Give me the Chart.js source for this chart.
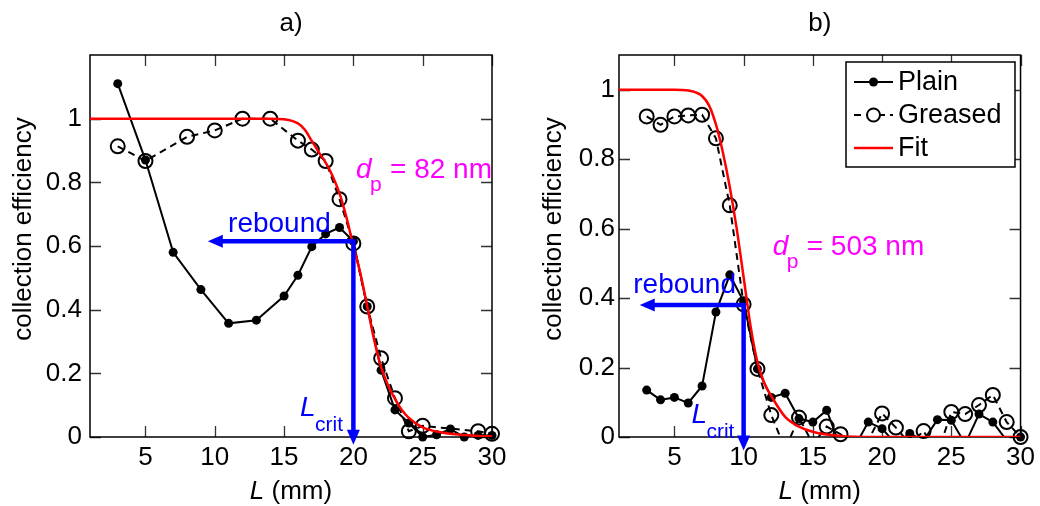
<!DOCTYPE html>
<html>
<head>
<meta charset="utf-8">
<script src="https://cdn.jsdelivr.net/npm/chart.js@4.4.1/dist/chart.umd.min.js"></script>
<style>
body { margin: 0; background: #fff; }
#wrap { position: relative; width: 1040px; height: 506px; }
canvas { position: absolute; top: 0; }
</style>
</head>
<body>
<div id="wrap">
  <canvas id="chartA" width="520" height="506" style="left:0"></canvas>
  <canvas id="chartB" width="520" height="506" style="left:520px"></canvas>
</div>
<script>
const FONT = '"Liberation Sans", Arial, sans-serif';
const BLUE = '#0000ff';
const MAGENTA = '#ff00ff';

// a) d_p = 82 nm
const plainA_L = [3, 5, 7, 9, 11, 13, 15, 16, 17, 18, 19, 20, 21, 22, 23, 24, 25, 26, 27, 28, 29, 30];
const plainA = [1.11, 0.87, 0.58, 0.463, 0.357, 0.367, 0.443, 0.508, 0.598, 0.638, 0.658, 0.615, 0.41, 0.21, 0.085, 0.044, 0.0, 0.007, 0.025, 0.0, 0.005, 0.005];
const greasedA_L = [3, 5, 8, 10, 12, 14, 16, 17, 18, 19, 20, 21, 22, 23, 24, 25, 29, 30];
const greasedA = [0.913, 0.867, 0.943, 0.963, 1.0, 1.0, 0.931, 0.903, 0.867, 0.747, 0.608, 0.41, 0.247, 0.122, 0.018, 0.035, 0.018, 0.01];
const fitA_L = [1, 5, 10, 14, 15, 16, 16.5, 17, 17.5, 18, 18.5, 19, 19.5, 20, 20.5, 21, 21.5, 22, 22.5, 23, 23.5, 24, 25, 26, 27, 28, 29, 30];
const fitA = [1, 1, 1, 1, 0.998, 0.985, 0.965, 0.93, 0.895, 0.862, 0.82, 0.765, 0.69, 0.6, 0.515, 0.41, 0.305, 0.22, 0.162, 0.12, 0.085, 0.06, 0.03, 0.017, 0.01, 0.006, 0.003, 0.002];

// b) d_p = 503 nm
const plainB_L = [3, 4, 5, 6, 7, 8, 9, 10, 11, 12, 13, 14, 15, 16, 17, 18, 19, 20, 21, 22, 23, 24, 25, 26, 27, 28, 29, 30];
const plainB = [0.135, 0.107, 0.114, 0.098, 0.147, 0.36, 0.467, 0.39, 0.196, 0.114, 0.126, 0.053, 0.043, 0.077, -0.03, -0.03, 0.043, 0.024, -0.02, 0.01, -0.01, 0.05, 0.048, -0.02, 0.066, 0.043, -0.01, 0.0];
const greasedB_L = plainB_L;
const greasedB = [0.923, 0.899, 0.923, 0.926, 0.928, 0.86, 0.667, 0.382, 0.196, 0.063, -0.035, 0.056, -0.02, 0.03, 0.008, -0.03, -0.01, 0.068, 0.027, -0.02, 0.017, -0.05, 0.072, 0.066, 0.092, 0.121, 0.043, 0.0];
const fitB_L = [1, 3, 5, 6, 6.5, 7, 7.5, 8, 8.5, 9, 9.5, 10, 10.5, 11, 11.5, 12, 13, 14, 15, 16, 17, 18, 20, 25, 30];
const fitB = [1, 1, 1, 0.998, 0.993, 0.982, 0.955, 0.9, 0.82, 0.72, 0.6, 0.46, 0.32, 0.215, 0.155, 0.118, 0.058, 0.03, 0.015, 0.007, 0.003, 0.001, 0, 0, 0];

const xTicks = [5, 10, 15, 20, 25, 30];
const yTicks = [0, 0.2, 0.4, 0.6, 0.8, 1];

const pts = (xs, ys) => xs.map((v, i) => ({ x: v, y: ys[i] }));

function datasets(pl, plY, gr, grY, ft, ftY) {
    return [
        { data: pts(ft, ftY), borderColor: '#ff0000', borderWidth: 2.5, pointRadius: 0,
          cubicInterpolationMode: 'monotone', order: 0 },
        { data: pts(gr, grY), showLine: false, clip: false, order: 1,
          pointRadius: c => (c.raw && c.raw.y < 0 ? 0 : 7), pointBorderWidth: 2,
          pointBorderColor: '#000', pointBackgroundColor: 'rgba(0,0,0,0)' },
        { data: pts(gr, grY), borderColor: '#000', borderWidth: 2, borderDash: [7, 5],
          pointRadius: 0, order: 2 },
        { data: pts(pl, plY), showLine: false, clip: false, order: 3,
          pointRadius: c => (c.raw && c.raw.y < 0 ? 0 : 4.5), pointBorderWidth: 0,
          pointBackgroundColor: '#000' },
        { data: pts(pl, plY), borderColor: '#000', borderWidth: 2, pointRadius: 0, order: 4 }
    ];
}

function txt(ctx, s, px, py, size, color, italic) {
    ctx.font = (italic ? 'italic ' : '') + size + 'px ' + FONT;
    ctx.fillStyle = color;
    ctx.textAlign = 'left';
    ctx.textBaseline = 'alphabetic';
    ctx.fillText(s, px, py);
    return ctx.measureText(s).width;
}

// box with inward ticks on all four sides
const boxPlugin = {
    id: 'box',
    beforeDatasetsDraw(chart) {
        const { ctx, chartArea: a, scales: { x, y } } = chart;
        ctx.save();
        ctx.strokeStyle = '#333';
        ctx.lineWidth = 1.3;
        ctx.beginPath();
        xTicks.forEach(v => {
            const px = Math.round(x.getPixelForValue(v)) + 0.5;
            ctx.moveTo(px, a.bottom); ctx.lineTo(px, a.bottom - 11);
            ctx.moveTo(px, a.top); ctx.lineTo(px, a.top + 11);
        });
        yTicks.forEach(v => {
            const py = Math.round(y.getPixelForValue(v)) + 0.5;
            ctx.moveTo(a.left, py); ctx.lineTo(a.left + 11, py);
            ctx.moveTo(a.right, py); ctx.lineTo(a.right - 11, py);
        });
        ctx.stroke();
        ctx.strokeStyle = '#000';
        ctx.lineWidth = 1.5;
        ctx.strokeRect(a.left, a.top, a.right - a.left, a.bottom - a.top);
        ctx.restore();
    }
};

function arrowHead(ctx, tx, ty, dir) {
    // dir: 'left' or 'down'
    ctx.beginPath();
    if (dir === 'left') {
        ctx.moveTo(tx, ty); ctx.lineTo(tx + 15, ty - 6.5); ctx.lineTo(tx + 15, ty + 6.5);
    } else {
        ctx.moveTo(tx, ty); ctx.lineTo(tx - 6.5, ty - 15); ctx.lineTo(tx + 6.5, ty - 15);
    }
    ctx.closePath();
    ctx.fill();
}

function makeAnnot(cfg) {
    return {
        id: 'annot',
        afterDatasetsDraw(chart) {
            const { ctx, scales: { x, y } } = chart;
            const x0 = x.getPixelForValue(cfg.start[0]);
            const y0 = y.getPixelForValue(cfg.start[1]);
            const xh = x.getPixelForValue(cfg.tipH);
            const yv = y.getPixelForValue(cfg.tipV);
            ctx.save();
            ctx.strokeStyle = BLUE;
            ctx.fillStyle = BLUE;
            ctx.lineWidth = 4.5;
            ctx.beginPath();
            ctx.moveTo(xh + 12, y0); ctx.lineTo(x0, y0);
            ctx.moveTo(x0, y0 - 2); ctx.lineTo(x0, yv - 12);
            ctx.stroke();
            arrowHead(ctx, xh, y0, 'left');
            arrowHead(ctx, x0, yv, 'down');

            txt(ctx, 'rebound', x.getPixelForValue(cfg.rebound[0]), y.getPixelForValue(cfg.rebound[1]), 28, BLUE, false);

            const lx = x.getPixelForValue(cfg.lcrit[0]);
            const ly = y.getPixelForValue(cfg.lcrit[1]);
            txt(ctx, 'L', lx, ly, 28, BLUE, true);
            txt(ctx, 'crit', lx + 15, ly + 15, 21, BLUE, false);

            const dx = x.getPixelForValue(cfg.dp[0]);
            const dy = y.getPixelForValue(cfg.dp[1]);
            txt(ctx, 'd', dx, dy, 28, MAGENTA, true);
            txt(ctx, 'p', dx + 14, dy + 13, 21, MAGENTA, false);
            txt(ctx, '= ' + cfg.dpText, dx + 34, dy, 28, MAGENTA, false);
            ctx.restore();
        },
        afterDraw(chart) {
            const { ctx, chartArea: a } = chart;
            const cx = (a.left + a.right) / 2;
            ctx.save();
            ctx.fillStyle = '#000';
            ctx.font = '26px ' + FONT;
            ctx.textAlign = 'center';
            ctx.textBaseline = 'alphabetic';
            ctx.fillText(cfg.title, cx, 31);
            // x title: L (mm)
            ctx.font = 'italic 26px ' + FONT;
            const wL = ctx.measureText('L').width;
            ctx.font = '26px ' + FONT;
            const wR = ctx.measureText(' (mm)').width;
            const sx = cx - (wL + wR) / 2;
            txt(ctx, 'L', sx, 499, 26, '#000', true);
            txt(ctx, ' (mm)', sx + wL, 499, 26, '#000', false);
            // y title
            ctx.translate(cfg.yTitleX, 229);
            ctx.rotate(-Math.PI / 2);
            ctx.font = '26px ' + FONT;
            ctx.fillStyle = '#000';
            ctx.textAlign = 'center';
            ctx.textBaseline = 'middle';
            ctx.fillText('collection efficiency', 0, 0);
            ctx.restore();
        }
    };
}

const legendPlugin = {
    id: 'legendBox',
    afterDraw(chart) {
        const ctx = chart.ctx;
        const bx = 326, by = 62, bw = 169, bh = 105;
        ctx.save();
        ctx.fillStyle = '#fff';
        ctx.fillRect(bx, by, bw, bh);
        ctx.strokeStyle = '#000';
        ctx.lineWidth = 1.5;
        ctx.strokeRect(bx, by, bw, bh);
        const rows = [
            { label: 'Plain', y: 82 },
            { label: 'Greased', y: 115 },
            { label: 'Fit', y: 148 }
        ];
        rows.forEach((r, i) => {
            ctx.lineWidth = i === 2 ? 2.5 : 2;
            ctx.strokeStyle = i === 2 ? '#ff0000' : '#000';
            ctx.setLineDash(i === 1 ? [7, 5] : []);
            ctx.beginPath();
            ctx.moveTo(334, r.y); ctx.lineTo(373, r.y);
            ctx.stroke();
            ctx.setLineDash([]);
            if (i === 0) {
                ctx.fillStyle = '#000';
                ctx.beginPath(); ctx.arc(353.5, r.y, 4.5, 0, Math.PI * 2); ctx.fill();
            } else if (i === 1) {
                ctx.fillStyle = '#fff';
                ctx.beginPath(); ctx.arc(353.5, r.y, 6.5, 0, Math.PI * 2); ctx.fill(); ctx.stroke();
            }
            ctx.fillStyle = '#000';
            ctx.font = '27px ' + FONT;
            ctx.textAlign = 'left';
            ctx.textBaseline = 'middle';
            ctx.fillText(r.label, 378, r.y + 1);
        });
        ctx.restore();
    }
};

function makeChart(id, ds, yMax, yAxisWidth, yPad, rightPad, annot, extra) {
    return new Chart(document.getElementById(id), {
        type: 'line',
        data: { datasets: ds },
        options: {
            responsive: false,
            animation: false,
            layout: { padding: { top: 55, right: rightPad, bottom: 0, left: 0 } },
            plugins: { legend: { display: false }, tooltip: { enabled: false }, title: { display: false } },
            scales: {
                x: {
                    type: 'linear', min: 1, max: 30,
                    grid: { display: false, drawTicks: false },
                    border: { display: false },
                    afterBuildTicks: s => { s.ticks = xTicks.map(v => ({ value: v })); },
                    afterFit: s => { s.height = 69; },
                    ticks: { color: '#000', font: { size: 26, family: FONT }, padding: 5,
                             autoSkip: false, maxRotation: 0, callback: v => String(v) }
                },
                y: {
                    type: 'linear', min: 0, max: yMax,
                    grid: { display: false, drawTicks: false },
                    border: { display: false },
                    afterBuildTicks: s => { s.ticks = yTicks.map(v => ({ value: v })); },
                    afterFit: s => { s.width = yAxisWidth; },
                    ticks: { color: '#000', font: { size: 26, family: FONT }, padding: yPad,
                             callback: v => String(+Number(v).toFixed(1)) }
                }
            }
        },
        plugins: [boxPlugin, makeAnnot(annot)].concat(extra)
    });
}

makeChart('chartA', datasets(plainA_L, plainA, greasedA_L, greasedA, fitA_L, fitA),
    1.2, 90, 8, 28,
    { title: 'a)', yTitleX: 24, start: [20, 0.615], tipH: 9.5, tipV: -0.024,
      rebound: [10.96, 0.644], lcrit: [16.15, 0.065], dp: [20.19, 0.814], dpText: '82 nm' },
    []);

makeChart('chartB', datasets(plainB_L, plainB, greasedB_L, greasedB, fitB_L, fitB),
    1.1, 99, 4, 18,
    { title: 'b)', yTitleX: 34, start: [10, 0.38], tipH: 2.5, tipV: -0.039,
      rebound: [2.03, 0.414], lcrit: [6.23, 0.04], dp: [12.1, 0.524], dpText: '503 nm' },
    [legendPlugin]);
</script>
</body>
</html>
